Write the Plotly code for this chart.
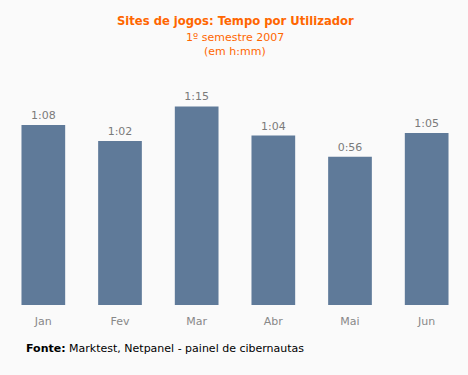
import plotly.graph_objects as go

months = ["Jan", "Fev", "Mar", "Abr", "Mai", "Jun"]
minutes = [68, 62, 75, 64, 56, 65]
labels = [f"{m // 60}:{m % 60:02d}" for m in minutes]

fig = go.Figure(go.Bar(
    x=months, y=minutes, text=labels, textposition="outside",
    textfont=dict(family="DejaVu Sans", size=11, color="#7a7a7a"),
    marker=dict(color="#5f7a99", line=dict(width=0)),
    cliponaxis=False, hoverinfo="skip",
))

W, H = 468, 375
l, r, t, b = 5, 3, 80, 70

fig.update_layout(
    width=W, height=H,
    paper_bgcolor="#fafafa", plot_bgcolor="#fafafa",
    margin=dict(l=l, r=r, t=t, b=b),
    bargap=0.43, showlegend=False,
    font=dict(family="DejaVu Sans", size=11),
    xaxis=dict(showgrid=False, showline=False, zeroline=False, ticks="",
               ticklabelstandoff=8,
               tickfont=dict(size=11, color="#888888")),
    yaxis=dict(visible=False, range=[0, 85], showgrid=False, zeroline=False),
    annotations=[
        dict(text="<b>Sites de jogos: Tempo por Utilizador</b>", x=0.5, y=21,
             xref="paper", yref="paper", showarrow=False,
             font=dict(size=11.6, color="#ff6600")),
        dict(text="1º semestre 2007", x=0.5, y=37, xref="paper", yref="paper",
             showarrow=False, font=dict(size=11, color="#ff6600")),
        dict(text="(em h:mm)", x=0.5, y=51, xref="paper", yref="paper",
             showarrow=False, font=dict(size=11, color="#ff6600")),
        dict(text="<b>Fonte:</b> Marktest, Netpanel - painel de cibernautas",
             x=24, y=348, xref="paper", yref="paper", xanchor="left",
             showarrow=False, font=dict(size=11, color="#000000")),
    ],
)

# convert pixel positions of annotations to paper coordinates
pw, ph = W - l - r, H - t - b
for a in fig.layout.annotations:
    a.y = (H - b - a.y) / ph
    a.yanchor = "middle"
    if a.xanchor == "left":
        a.x = (a.x - l) / pw

fig.write_html(
    "out.html",
    config={"displayModeBar": False, "staticPlot": True},
    post_script="document.body.style.margin='0';document.body.style.background='#fafafa';",
)
